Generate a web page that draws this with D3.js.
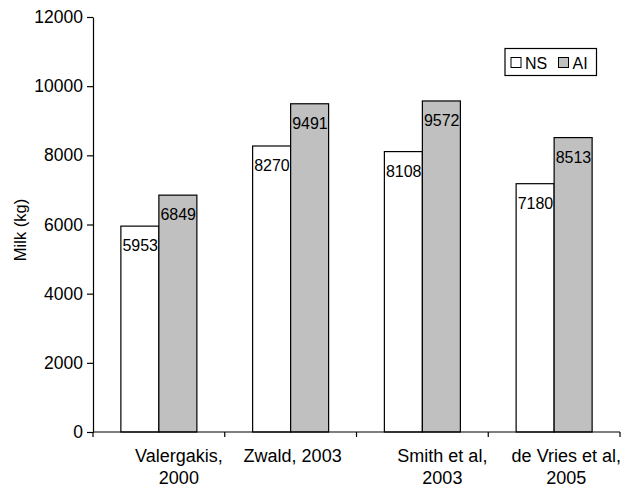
<!DOCTYPE html>
<html><head><meta charset="utf-8">
<script src="https://cdn.jsdelivr.net/npm/d3@7"></script>
<style>
html,body{margin:0;padding:0;background:#fff;}
svg{display:block;font-family:"Liberation Sans",Arial,sans-serif;}
</style></head>
<body><svg id="c" width="631" height="489"></svg>
<script>
const categories = [["Valergakis,","2000"],["Zwald, 2003"],["Smith et al,","2003"],["de Vries et al,","2005"]];
const seriesNames = ["NS","AI"];
const nsValues = [5953, 8270, 8108, 7180];
const aiValues = [6849, 9491, 9572, 8513];
const yTicks = [0,2000,4000,6000,8000,10000,12000];

const colors = {NS:"#ffffff", AI:"#c0c0c0"};
const svg = d3.select("#c");
const catKeys = categories.map(c=>c.join(" "));
const x = d3.scaleBand().domain(catKeys).range([93,620]).paddingInner(0).paddingOuter(0);
const y = d3.scaleLinear().domain([0,12000]).range([432,17]);
const barW = 38;

// y axis
const ya = svg.append("g").attr("transform","translate(93,0)")
  .call(d3.axisLeft(y).tickValues(yTicks).tickSize(6).tickSizeOuter(0).tickPadding(4).tickFormat(d3.format("d")));
ya.selectAll("path,line").attr("stroke","#000").attr("stroke-width",1.2);
ya.selectAll("text").attr("font-size",17.5).attr("font-family","Liberation Sans, Arial, sans-serif").attr("fill","#000");

// y label
svg.append("text").attr("transform","translate(26,230) rotate(-90)")
  .attr("text-anchor","middle").attr("font-size",16.5).attr("fill","#000").text("Milk (kg)");

// bars
const data = catKeys.map((k,i)=>({k, NS:nsValues[i], AI:aiValues[i]}));
const g = svg.append("g");
data.forEach(d=>{
  const cx = x(d.k) + x.bandwidth()/2;
  seriesNames.forEach((s,j)=>{
    const x0 = cx - barW + j*barW;
    g.append("rect").attr("x",x0).attr("y",y(d[s])).attr("width",barW).attr("height",y(0)-y(d[s]))
      .attr("fill",colors[s]).attr("stroke","#000").attr("stroke-width",1.2);
    g.append("text").attr("x",x0+1.5).attr("y",y(d[s])+25).attr("font-size",16).attr("fill","#000").text(d[s]);
  });
});

// x axis
const xa = svg.append("g");
xa.append("line").attr("x1",93).attr("x2",620).attr("y1",432).attr("y2",432).attr("stroke","#000").attr("stroke-width",1.2);
const bounds = catKeys.map(k=>x(k)).concat([x.range()[1]]);
bounds.forEach(b=>{
  xa.append("line").attr("x1",b).attr("x2",b).attr("y1",432).attr("y2",437).attr("stroke","#000").attr("stroke-width",1.2);
});
categories.forEach((lines,i)=>{
  const k = catKeys[i];
  let cx = x(k) + x.bandwidth()/2 + (lines.length>1 ? 20 : 2);
  const t = xa.append("text").attr("text-anchor","middle").attr("font-size",18).attr("fill","#000");
  lines.forEach((ln,li)=>{
    t.append("tspan").attr("x",cx).attr("y",461.5 + li*22.3).text(ln);
  });
  const bb = t.node().getBBox();
  if (bb.x + bb.width > 621) {
    const shift = bb.x + bb.width - 621;
    t.selectAll("tspan").attr("x", cx - shift);
  }
});

// legend
const lg = svg.append("g");
lg.append("rect").attr("x",505).attr("y",48.5).attr("width",91.5).attr("height",27).attr("fill","#fff").attr("stroke","#000").attr("stroke-width",1.2);
const legPos = [{sx:511, tx:525}, {sx:558.5, tx:572.5}];
seriesNames.forEach((s,j)=>{
  lg.append("rect").attr("x",legPos[j].sx).attr("y",57.5).attr("width",10).attr("height",10).attr("fill",colors[s]).attr("stroke","#000").attr("stroke-width",1);
  lg.append("text").attr("x",legPos[j].tx).attr("y",69).attr("font-size",16).attr("fill","#000").text(s);
});
</script></body></html>
